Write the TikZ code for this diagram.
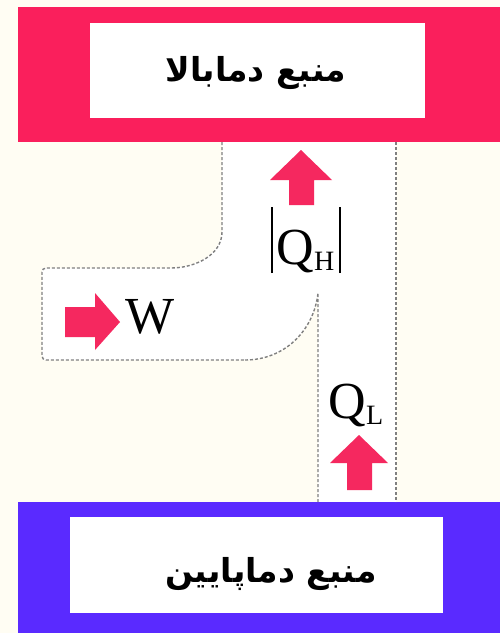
\documentclass[tikz,border=0pt]{standalone}
\usepackage{fontspec}
\setmainfont{Liberation Serif}
\newfontfamily\arabicfont[Script=Arabic]{DejaVu Sans}
\TeXXeTstate=1
\definecolor{bgc}{HTML}{FFFDF3}
\definecolor{hotc}{HTML}{FA1F5C}
\definecolor{coldc}{HTML}{5A2AFF}
\definecolor{arrc}{HTML}{F5285F}
\definecolor{dashc}{HTML}{808080}
\tikzset{
  whitebox/.style={fill=white, inner sep=0pt},
  ptext/.style={inner sep=0pt, font=\arabicfont\bfseries\fontsize{33}{33}\selectfont},
  bound/.style={draw=dashc, line width=1.4pt, dash pattern=on 3pt off 2pt},
  bigsym/.style={inner sep=0pt, font=\fontsize{52}{52}\selectfont},
}
\newcommand{\absbar}{\rule[-9pt]{1.6pt}{66pt}}
\begin{document}
\begin{tikzpicture}[x=1pt,y=-1pt]
\useasboundingbox (0,0) rectangle (500,633);
\fill[bgc] (0,0) rectangle (500,633);
% region interior
\fill[white] (222,141) -- (222,228) .. controls (222,255) and (195,268) .. (167,268)
  -- (42,268) -- (42,360) -- (245,360) .. controls (285,360) and (314,330) .. (318,293)
  -- (318,502) -- (396,502) -- (396,141) -- cycle;
% reservoirs
\fill[hotc] (18,7) rectangle (500,142);
\fill[coldc] (18,502) rectangle (500,633);
\node[whitebox, minimum width=335pt, minimum height=95pt] (hotbox) at (257.5,70.5) {};
\node[ptext] (hot) at (256,73) {\beginR منبع دمابالا\endR};
\node[whitebox, minimum width=373pt, minimum height=96pt] (coldbox) at (256.5,565) {};
\node[ptext] (cold) at (271,574) {\beginR منبع دماپایین\endR};
% boundary
\draw[bound, rounded corners=4pt] (222,142) -- (222,228) .. controls (222,255) and (195,268) .. (167,268)
  -- (42,268) -- (42,360) -- (245,360);
\draw[bound] (245,360) .. controls (285,360) and (314,330) .. (318,293) -- (318,502);
\draw[bound] (396,142) -- (396,502);
% arrows
\fill[arrc] (301,150) -- (332,180) -- (314,180) -- (314,205) -- (289,205) -- (289,180) -- (270,180) -- cycle;
\fill[arrc] (120,322) -- (95,293) -- (95,307) -- (65,307) -- (65,337) -- (95,337) -- (95,350) -- cycle;
\fill[arrc] (359,435) -- (388,463) -- (372,463) -- (372,490) -- (347,490) -- (347,463) -- (330,463) -- cycle;
% labels
\node[bigsym] (qh) at (306,240) {\absbar\hspace{4pt}Q\raisebox{-0.12em}{\fontsize{28}{28}\selectfont H}\hspace{5pt}\absbar};
\node[bigsym] (w) at (150,317) {W};
\node[bigsym] (ql) at (356,405) {Q\raisebox{-0.12em}{\fontsize{28}{28}\selectfont L}};
\end{tikzpicture}
\end{document}
